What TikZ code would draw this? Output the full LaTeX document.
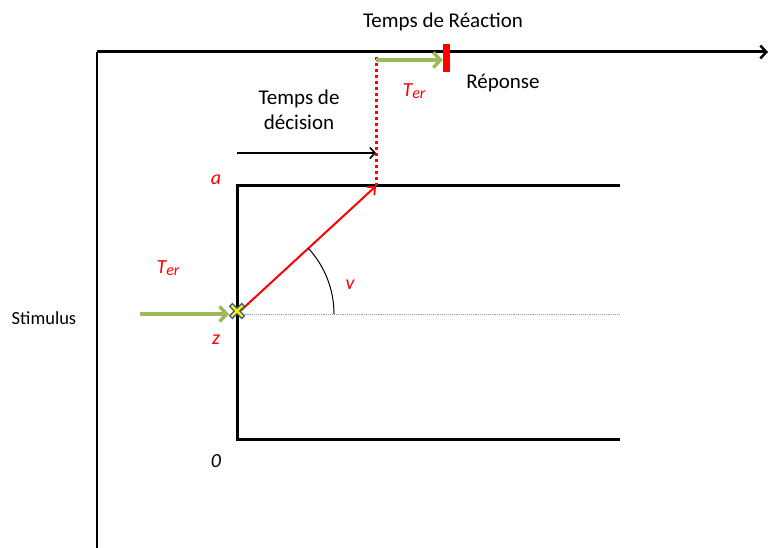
\documentclass[tikz,border=0pt]{standalone}
\usepackage{fontspec}
\setmainfont{Carlito}
\usetikzlibrary{arrows.meta}

\definecolor{grn}{HTML}{9BBB59}
\definecolor{xblue}{HTML}{385D8A}
\newcommand{\Ter}{T\raisebox{-1.5pt}{\fontsize{16}{16}\selectfont er}}

\begin{document}
\begin{tikzpicture}[
  x=1pt, y=-1pt,
  font=\fontsize{21}{25}\selectfont,
  axis/.style={line width=3pt},
  bound/.style={line width=3pt},
  grnarrow/.style={draw=grn, line width=4.5pt, -{Straight Barb[length=7pt, width=15pt, line width=3.5pt]}},
  blkarrow/.style={line width=1.6pt, -{Straight Barb[length=5pt, width=11pt, line width=1.6pt]}},
  redlbl/.style={text=red, font=\fontsize{20}{24}\selectfont\itshape},
  ]
\useasboundingbox (0,0) rectangle (768,548);

% axes
\coordinate (o) at (97,52);
\coordinate (xend) at (768,52);
\coordinate (yend) at (97,548);
\draw [axis, -{Straight Barb[length=6pt, width=13pt, line width=2.5pt]}] (o) -- (xend);
\draw [line width=1.1pt] (o) -- (yend);
\node (tr) at (443,22) {Temps de Réaction};

% boundaries
\coordinate (a0) at (237,186);
\coordinate (a1) at (620,186);
\coordinate (b0) at (237,439);
\coordinate (b1) at (620,439);
\coordinate (z0) at (237,314);
\coordinate (z1) at (620,314);
\draw [bound] (a1) -- (a0) -- (b0) -- (b1);
\draw [xblue!60, densely dotted, line width=0.9pt] (z0) -- (z1);
\node [redlbl] (la) at (216,180) {a};
\node [redlbl] (lz) at (216,340) {z};
\node [font=\fontsize{20}{24}\selectfont\itshape] (l0) at (216,461) {0};

% drift
\coordinate (hit) at (376,186);
\draw [red, line width=2pt, -{Straight Barb[length=6pt, width=11pt, line width=1.8pt]}] (z0) -- (hit);
\draw [line width=1pt] (334,314) arc[start angle=0, end angle=-42.6, radius=97];
\node [redlbl] (lv) at (350,285) {v};

% decision time
\coordinate (d0) at (237,153);
\coordinate (d1) at (376,153);
\draw [blkarrow] (d0) -- (d1);
\node [align=center] (td) at (299,110) {Temps de\\décision};

% response
\coordinate (top) at (376,55);
\draw [red, line width=3pt, dash pattern=on 3pt off 3pt] (hit) -- (top);
\node [draw=none, fill=red, minimum width=7pt, minimum height=28pt, inner sep=0pt] (rep) at (446.5,58.5) {};
\coordinate (g0) at (376,60);
\draw [grnarrow] (g0) -- (rep.west |- g0);
\node [redlbl] (ter2) at (414,91) {\Ter};
\node (lrep) at (503,83) {Réponse};

% stimulus
\node [font=\fontsize{18.5}{22}\selectfont] (stim) at (44,318) {Stimulus};
\coordinate (s0) at (140,314);
\draw [grnarrow] (s0) -- (229,314);
\node [redlbl] (ter1) at (168,268) {\Ter};

% start point
\draw [xblue, line width=5pt] (230.5,304.5) -- (243.5,317.5) (230.5,317.5) -- (243.5,304.5);
\draw [yellow, line width=2.4pt] (231.5,305.5) -- (242.5,316.5) (231.5,316.5) -- (242.5,305.5);
\end{tikzpicture}
\end{document}
